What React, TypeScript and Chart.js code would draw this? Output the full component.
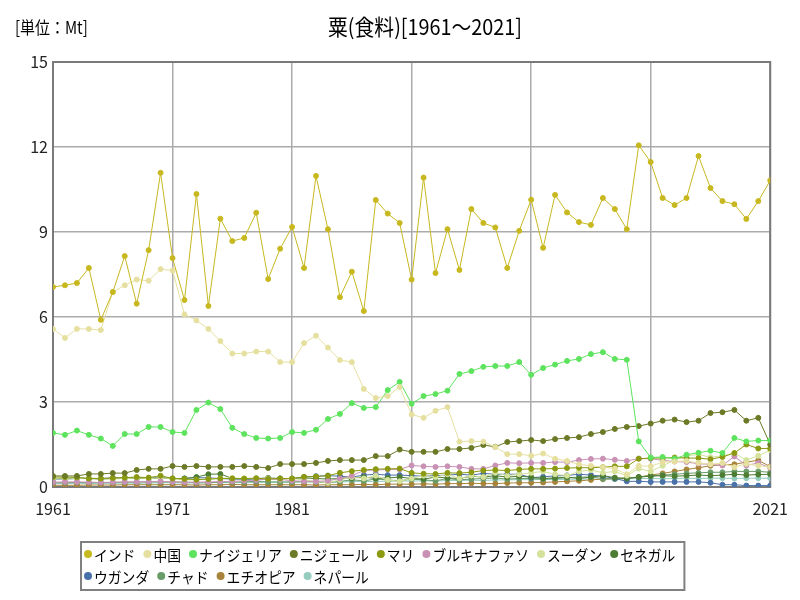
import React, { useEffect, useRef } from 'react';
import { Chart, registerables } from 'chart.js';

Chart.register(...registerables);

const years: number[] = [
  1961, 1962, 1963, 1964, 1965, 1966, 1967, 1968, 1969, 1970,
  1971, 1972, 1973, 1974, 1975, 1976, 1977, 1978, 1979, 1980,
  1981, 1982, 1983, 1984, 1985, 1986, 1987, 1988, 1989, 1990,
  1991, 1992, 1993, 1994, 1995, 1996, 1997, 1998, 1999, 2000,
  2001, 2002, 2003, 2004, 2005, 2006, 2007, 2008, 2009, 2010,
  2011, 2012, 2013, 2014, 2015, 2016, 2017, 2018, 2019, 2020, 2021,
];

const xTicks: number[] = [1961, 1971, 1981, 1991, 2001, 2011, 2021];
const yTicks: number[] = [0, 3, 6, 9, 12, 15];

const titleText = '粟(食料)[1961～2021]';
const unitText = '[単位：Mt]';

const seriesNames: string[] = [
  'インド', '中国', 'ナイジェリア', 'ニジェール', 'マリ', 'ブルキナファソ',
  'スーダン', 'セネガル', 'ウガンダ', 'チャド', 'エチオピア', 'ネパール',
];

const seriesColors: string[] = [
  '#c8b820', '#e6e0a0', '#5ee35e', '#6b7a26', '#8c9a12', '#c992b5',
  '#d4e29c', '#4d7d32', '#4a72a8', '#6a9c6a', '#a8843a', '#94ccbe',
];

const india: number[] = [
  7.06, 7.12, 7.2, 7.73, 5.9, 6.88, 8.15, 6.47, 8.36, 11.09,
  8.08, 6.6, 10.34, 6.39, 9.47, 8.68, 8.79, 9.68, 7.34, 8.41,
  9.18, 7.73, 10.98, 9.1, 6.7, 7.6, 6.21, 10.13, 9.65, 9.32,
  7.32, 10.92, 7.55, 9.1, 7.66, 9.81, 9.32, 9.16, 7.73, 9.04,
  10.14, 8.44, 10.31, 9.69, 9.35, 9.25, 10.2, 9.81, 9.1, 12.06,
  11.47, 10.2, 9.95, 10.2, 11.68, 10.55, 10.09, 9.98, 9.46, 10.09, 10.82,
];

const china: number[] = [
  5.58, 5.26, 5.58, 5.58, 5.54, 6.88, 7.12, 7.32, 7.28, 7.69,
  7.64, 6.09, 5.88, 5.58, 5.15, 4.71, 4.71, 4.78, 4.78, 4.41,
  4.41, 5.08, 5.34, 4.92, 4.48, 4.41, 3.46, 3.14, 3.21, 3.53,
  2.56, 2.44, 2.69, 2.82, 1.6, 1.62, 1.6, 1.41, 1.16, 1.16,
  1.1, 1.18, 1.0, 0.92, 0.8, 0.75, 0.7, 0.65, 0.45, 0.75,
  0.73, 0.88, 0.9, 0.92, 0.85, 0.8, 0.85, 0.7, 0.82, 0.75, 0.7,
];

const nigeria: number[] = [
  1.91, 1.84, 1.99, 1.84, 1.71, 1.45, 1.87, 1.87, 2.12, 2.12,
  1.94, 1.91, 2.72, 2.98, 2.75, 2.09, 1.87, 1.73, 1.71, 1.73,
  1.94, 1.91, 2.02, 2.4, 2.58, 2.96, 2.79, 2.82, 3.42, 3.71,
  2.94, 3.21, 3.28, 3.4, 3.99, 4.09, 4.24, 4.27, 4.27, 4.41,
  3.96, 4.2, 4.32, 4.45, 4.52, 4.69, 4.76, 4.52, 4.49, 1.61,
  1.04, 1.06, 1.0, 1.14, 1.21, 1.28, 1.2, 1.73, 1.61, 1.64, 1.64,
];

const niger: number[] = [
  0.39, 0.39, 0.39, 0.46, 0.46, 0.49, 0.49, 0.6, 0.64, 0.64,
  0.74, 0.71, 0.74, 0.71, 0.71, 0.71, 0.74, 0.71, 0.67, 0.81,
  0.81, 0.81, 0.85, 0.92, 0.95, 0.95, 0.95, 1.09, 1.09, 1.32,
  1.24, 1.24, 1.24, 1.34, 1.34, 1.38, 1.48, 1.42, 1.59, 1.62,
  1.66, 1.62, 1.69, 1.73, 1.76, 1.87, 1.94, 2.05, 2.12, 2.15,
  2.24, 2.34, 2.38, 2.29, 2.34, 2.61, 2.64, 2.72, 2.34, 2.44, 1.5,
];

const mali: number[] = [
  0.35, 0.35, 0.34, 0.3, 0.3, 0.32, 0.33, 0.35, 0.33, 0.4,
  0.3, 0.28, 0.26, 0.28, 0.3, 0.3, 0.3, 0.31, 0.28, 0.3,
  0.3, 0.36, 0.37, 0.4, 0.5, 0.56, 0.6, 0.63, 0.64, 0.65,
  0.5, 0.47, 0.46, 0.5, 0.49, 0.52, 0.58, 0.6, 0.58, 0.62,
  0.64, 0.64, 0.65, 0.67, 0.68, 0.68, 0.7, 0.73, 0.73, 1.0,
  1.02, 1.02, 1.04, 1.02, 1.02, 0.98, 1.06, 1.2, 1.5, 1.36, 1.36,
];

const burkinaFaso: number[] = [
  0.17, 0.18, 0.18, 0.17, 0.16, 0.17, 0.18, 0.18, 0.19, 0.2,
  0.18, 0.17, 0.17, 0.18, 0.19, 0.2, 0.22, 0.24, 0.28, 0.27,
  0.22, 0.2, 0.2, 0.22, 0.3, 0.4, 0.58, 0.6, 0.62, 0.62,
  0.76, 0.73, 0.71, 0.73, 0.71, 0.64, 0.64, 0.76, 0.85, 0.84,
  0.85, 0.85, 0.88, 0.88, 0.95, 0.99, 1.0, 0.96, 0.92, 1.0,
  1.0, 0.94, 0.9, 0.88, 0.82, 0.8, 0.76, 1.08, 0.76, 0.85, 0.67,
];

const sudan: number[] = [
  0.3, 0.28, 0.3, 0.32, 0.3, 0.28, 0.3, 0.32, 0.3, 0.32,
  0.3, 0.25, 0.25, 0.28, 0.3, 0.32, 0.3, 0.28, 0.3, 0.26,
  0.3, 0.25, 0.2, 0.15, 0.25, 0.35, 0.3, 0.4, 0.25, 0.2,
  0.3, 0.4, 0.35, 0.45, 0.3, 0.4, 0.35, 0.5, 0.4, 0.45,
  0.5, 0.55, 0.45, 0.4, 0.55, 0.6, 0.5, 0.55, 0.4, 0.65,
  0.55, 0.75, 0.95, 1.1, 1.15, 1.05, 1.1, 1.2, 0.95, 1.1, 1.3,
];

const senegal: number[] = [
  0.3, 0.3, 0.32, 0.3, 0.28, 0.3, 0.32, 0.3, 0.3, 0.32,
  0.3, 0.3, 0.35, 0.45, 0.46, 0.3, 0.28, 0.3, 0.32, 0.3,
  0.3, 0.32, 0.3, 0.28, 0.3, 0.32, 0.35, 0.3, 0.32, 0.35,
  0.3, 0.28, 0.35, 0.32, 0.3, 0.38, 0.35, 0.4, 0.35, 0.38,
  0.35, 0.3, 0.32, 0.35, 0.3, 0.35, 0.4, 0.33, 0.3, 0.35,
  0.38, 0.4, 0.38, 0.4, 0.42, 0.4, 0.42, 0.45, 0.42, 0.44, 0.45,
];

const uganda: number[] = [
  0.28, 0.28, 0.3, 0.3, 0.3, 0.32, 0.32, 0.33, 0.32, 0.33,
  0.3, 0.3, 0.33, 0.32, 0.3, 0.28, 0.28, 0.25, 0.3, 0.3,
  0.3, 0.35, 0.38, 0.4, 0.38, 0.35, 0.42, 0.45, 0.42, 0.42,
  0.4, 0.38, 0.4, 0.42, 0.45, 0.42, 0.48, 0.45, 0.45, 0.45,
  0.33, 0.36, 0.39, 0.41, 0.45, 0.42, 0.38, 0.3, 0.2, 0.2,
  0.18, 0.18, 0.18, 0.18, 0.18, 0.15, 0.08, 0.08, 0.05, 0.05, 0.05,
];

const chad: number[] = [
  0.15, 0.15, 0.16, 0.16, 0.15, 0.16, 0.17, 0.17, 0.18, 0.18,
  0.18, 0.17, 0.15, 0.15, 0.17, 0.18, 0.18, 0.2, 0.18, 0.18,
  0.18, 0.2, 0.18, 0.15, 0.2, 0.25, 0.22, 0.28, 0.25, 0.22,
  0.28, 0.25, 0.22, 0.3, 0.25, 0.28, 0.3, 0.32, 0.28, 0.3,
  0.3, 0.28, 0.3, 0.32, 0.35, 0.35, 0.3, 0.28, 0.3, 0.35,
  0.4, 0.42, 0.45, 0.48, 0.5, 0.52, 0.52, 0.55, 0.55, 0.55, 0.52,
];

const ethiopia: number[] = [
  0.06, 0.06, 0.06, 0.07, 0.07, 0.07, 0.08, 0.08, 0.08, 0.08,
  0.08, 0.08, 0.07, 0.08, 0.08, 0.09, 0.08, 0.08, 0.08, 0.08,
  0.08, 0.08, 0.07, 0.08, 0.08, 0.08, 0.09, 0.08, 0.1, 0.1,
  0.1, 0.11, 0.1, 0.12, 0.12, 0.13, 0.12, 0.12, 0.14, 0.15,
  0.15, 0.16, 0.18, 0.2, 0.22, 0.25, 0.28, 0.3, 0.32, 0.35,
  0.42, 0.48, 0.55, 0.62, 0.68, 0.75, 0.78, 0.8, 0.88, 0.94, 0.72,
];

const nepal: number[] = [
  0.12, 0.12, 0.13, 0.12, 0.13, 0.13, 0.14, 0.13, 0.14, 0.15,
  0.15, 0.14, 0.15, 0.15, 0.16, 0.15, 0.16, 0.16, 0.17, 0.16,
  0.17, 0.17, 0.18, 0.17, 0.18, 0.19, 0.19, 0.2, 0.2, 0.21,
  0.21, 0.22, 0.21, 0.23, 0.23, 0.24, 0.23, 0.25, 0.25, 0.26,
  0.26, 0.27, 0.26, 0.27, 0.28, 0.28, 0.27, 0.29, 0.29, 0.3,
  0.3, 0.29, 0.3, 0.31, 0.3, 0.31, 0.31, 0.3, 0.31, 0.31, 0.31,
];

const seriesValues: number[][] = [
  india, china, nigeria, niger, mali, burkinaFaso,
  sudan, senegal, uganda, chad, ethiopia, nepal,
];

const legendRows: number[][] = [
  [0, 1, 2, 3, 4, 5, 6, 7],
  [8, 9, 10, 11],
];

const CJK = '"Noto Sans CJK JP", "Noto Sans", sans-serif';

function drawCondensed(ctx: any, text: string, x: number, y: number, sx: number) {
  ctx.save();
  ctx.translate(x, y);
  ctx.scale(sx, 1);
  ctx.fillText(text, 0, 0);
  ctx.restore();
  return ctx.measureText(text).width * sx;
}

const decorPlugin = {
  id: 'decor',
  beforeDatasetsDraw(chart: any) {
    const { ctx, chartArea } = chart;
    ctx.save();
    ctx.strokeStyle = '#7a7a7a';
    ctx.lineWidth = 2;
    ctx.strokeRect(chartArea.left, chartArea.top, chartArea.right - chartArea.left, chartArea.bottom - chartArea.top);
    ctx.restore();
  },
  afterDraw(chart: any) {
    const { ctx } = chart;
    ctx.save();
    ctx.fillStyle = '#000';
    ctx.textBaseline = 'middle';
    ctx.textAlign = 'left';
    // title
    ctx.font = `22px ${CJK}`;
    const tw = ctx.measureText(titleText).width * 0.9;
    drawCondensed(ctx, titleText, 425 - tw / 2, 27, 0.9);
    // unit
    ctx.font = `17px ${CJK}`;
    drawCondensed(ctx, unitText, 15, 28, 0.88);

    // legend
    ctx.font = `15px ${CJK}`;
    const rowY = [554, 576];
    const startX = 88;
    const sx = 0.92;
    let maxEnd = 0;
    legendRows.forEach((row, r) => {
      let x = startX;
      row.forEach((idx) => {
        ctx.beginPath();
        ctx.arc(x, rowY[r], 4, 0, Math.PI * 2);
        ctx.fillStyle = seriesColors[idx];
        ctx.fill();
        ctx.fillStyle = '#000';
        const w = drawCondensed(ctx, seriesNames[idx], x + 6, rowY[r] + 1, sx);
        const end = x + 6 + w;
        if (end > maxEnd) maxEnd = end;
        x = end + 12;
      });
    });
    ctx.strokeStyle = '#808080';
    ctx.lineWidth = 2;
    ctx.strokeRect(81, 542, maxEnd + 9 - 81, 48);
    ctx.restore();
  },
};

export default function App() {
  const ref = useRef<HTMLCanvasElement | null>(null);

  useEffect(() => {
    document.body.style.margin = '0';
    if (!ref.current) return;
    const datasets = seriesNames.map((name, i) => ({
      label: name,
      data: years.map((yr, j) => ({ x: yr, y: seriesValues[i][j] })),
      borderColor: seriesColors[i],
      backgroundColor: seriesColors[i],
      borderWidth: 1,
      pointRadius: 2.5,
      pointHoverRadius: 3,
      tension: 0,
    }));
    const chart = new Chart(ref.current, {
      type: 'line',
      data: { datasets },
      options: {
        animation: false,
        responsive: false,
        maintainAspectRatio: false,
        layout: { padding: { left: 0, top: 62, right: 28, bottom: 78 } },
        plugins: {
          legend: { display: false },
          title: { display: false },
          tooltip: { enabled: false },
        },
        scales: {
          x: {
            type: 'linear',
            min: 1961,
            max: 2021,
            afterBuildTicks: (scale: any) => {
              scale.ticks = xTicks.map((v) => ({ value: v }));
            },
            afterFit: (scale: any) => {
              scale.height = 35;
            },
            ticks: {
              callback: (v: any) => String(v),
              color: '#222',
              font: { size: 16, family: CJK },
              padding: 12,
              maxRotation: 0,
            },
            grid: { color: '#ababab', lineWidth: 1.5, drawTicks: false },
            border: { display: false },
          },
          y: {
            min: 0,
            max: 15,
            afterBuildTicks: (scale: any) => {
              scale.ticks = yTicks.map((v) => ({ value: v }));
            },
            afterFit: (scale: any) => {
              scale.width = 53;
            },
            ticks: {
              callback: (v: any) => String(v),
              color: '#222',
              font: { size: 16, family: CJK },
              padding: 5,
            },
            grid: { color: '#ababab', lineWidth: 1.5, drawTicks: false },
            border: { display: false },
          },
        },
      },
      plugins: [decorPlugin],
    });
    return () => chart.destroy();
  }, []);

  return (
    <div style={{ width: 800, height: 600 }}>
      <canvas ref={ref} width={800} height={600} style={{ display: 'block', width: 800, height: 600 }} />
    </div>
  );
}
